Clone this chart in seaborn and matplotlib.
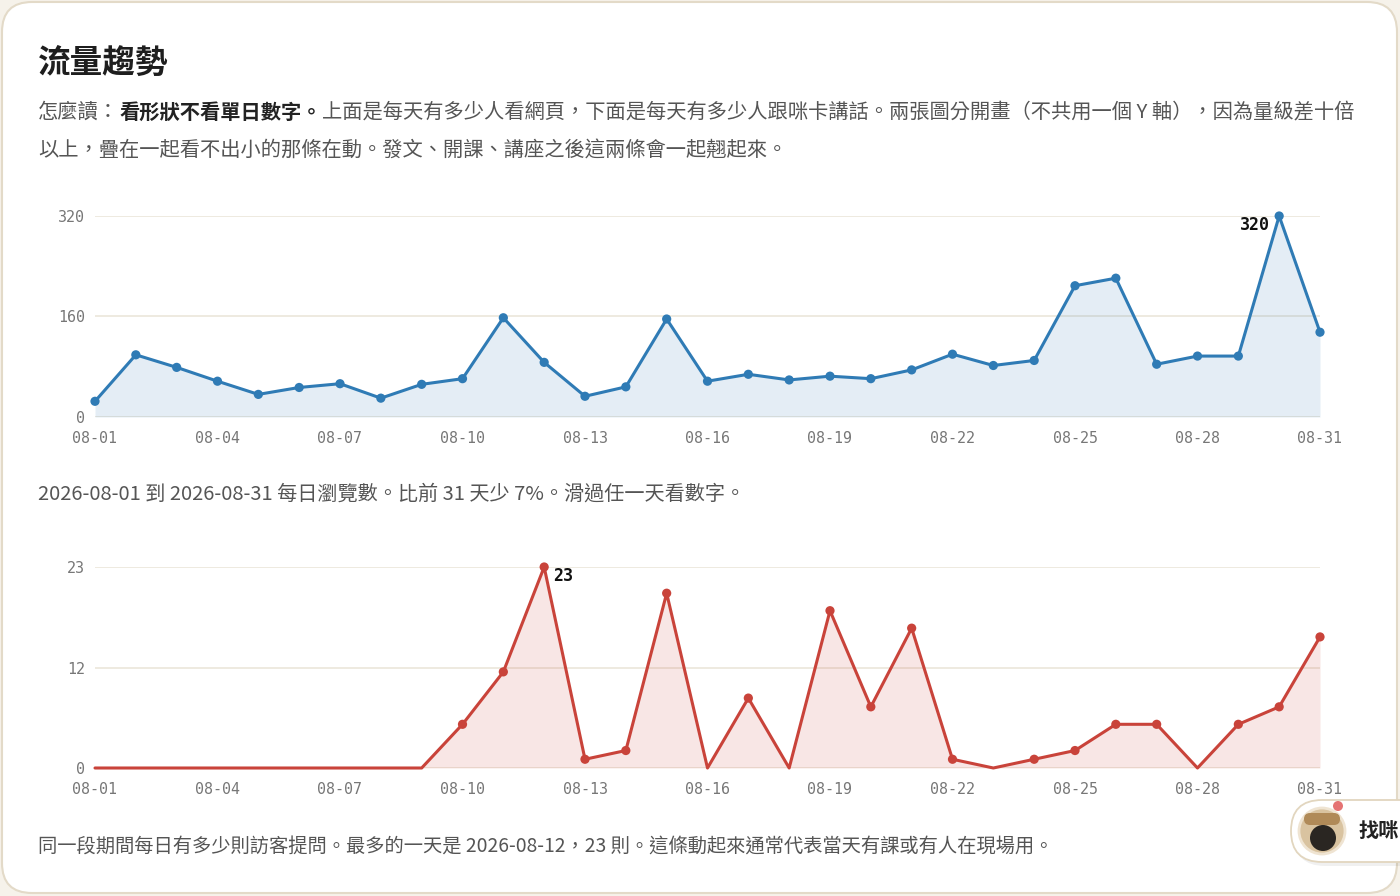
import numpy as np
import pandas as pd
import seaborn as sns
import matplotlib.pyplot as plt
from matplotlib.patches import FancyBboxPatch, Circle
from matplotlib.transforms import Affine2D

# ---------------- data ----------------
days = [f"08-{d:02d}" for d in range(1, 32)]
views = [25, 99, 79, 57, 36, 47, 53, 30, 52, 61, 158, 87, 33, 48, 156, 57,
         68, 59, 65, 61, 75, 100, 82, 90, 209, 221, 84, 97, 97, 320, 135]
questions = [0, 0, 0, 0, 0, 0, 0, 0, 0, 5, 11, 23, 1, 2, 20, 0,
             8, 0, 18, 7, 16, 1, 0, 1, 2, 5, 5, 0, 5, 7, 15]
x_tick_labels = ["08-01", "08-04", "08-07", "08-10", "08-13", "08-16",
                 "08-19", "08-22", "08-25", "08-28", "08-31"]
views_ticks = [0, 160, 320]
views_tick_labels = ["0", "160", "320"]
q_ticks = [0, 11.5, 23]
q_tick_labels = ["0", "12", "23"]

title = "流量趨勢"
desc1_a = "怎麼讀："
desc1_b = "看形狀不看單日數字。"
desc1_c = "上面是每天有多少人看網頁，下面是每天有多少人跟咪卡講話。兩張圖分開畫（不共用一個 Y 軸），因為量級差十倍"
desc2 = "以上，疊在一起看不出小的那條在動。發文、開課、講座之後這兩條會一起翹起來。"
cap1 = "2026-08-01 到 2026-08-31 每日瀏覽數。比前 31 天少 7%。滑過任一天看數字。"
cap2 = "同一段期間每日有多少則訪客提問。最多的一天是 2026-08-12，23 則。這條動起來通常代表當天有課或有人在現場用。"
widget_text = "找咪"

# ---------------- style ----------------
sns.set_theme(style="white")
CJK = ["Noto Sans CJK TC", "DejaVu Sans"]
MONO = ["DejaVu Sans Mono"]
plt.rcParams["font.family"] = CJK

BLUE = "#2f7bb5"
RED = "#c9433a"
GRID = "#ebe6da"
TICK = "#777777"

W, H = 1400, 896
fig = plt.figure(figsize=(W / 100, H / 100), dpi=100)
fig.patch.set_facecolor("#f6f2ea")
px = Affine2D().scale(1 / W, -1 / H).translate(0, 1) + fig.transFigure

# card
card = FancyBboxPatch((2, 2), 1395, 891, boxstyle="round,pad=0,rounding_size=30",
                      transform=px, facecolor="white", edgecolor="#e3dac8", lw=1.5,
                      zorder=-5)
fig.patches.append(card)

# ---------------- text ----------------
fig.text(38, 63, title, transform=px, fontsize=23.5, fontweight="bold",
         color="#1e1e1e", va="center", ha="left")

renderer = fig.canvas.get_renderer()
x0 = 38
for part, weight, col in [(desc1_a, "normal", "#555555"),
                          (desc1_b, "bold", "#222222"),
                          (desc1_c, "normal", "#555555")]:
    t = fig.text(x0, 112, part, transform=px, fontsize=14.6, fontweight=weight,
                 color=col, va="center", ha="left")
    bb = t.get_window_extent(renderer)
    x0 += bb.width
fig.text(38, 151, desc2, transform=px, fontsize=14.6, color="#555555",
         va="center", ha="left")
fig.text(38, 494, cap1, transform=px, fontsize=14.5, color="#555555",
         va="center", ha="left")
fig.text(38, 847, cap2, transform=px, fontsize=13.9, color="#555555",
         va="center", ha="left")


# ---------------- charts ----------------
def panel(rect_px, values, color, yticks, ylabels, ymax, ann_text, ann_offset, ann_ha):
    left, top, right, bottom = rect_px
    ax = fig.add_axes([left / W, 1 - bottom / H, (right - left) / W, (bottom - top) / H])
    ax.set_facecolor("none")
    df = pd.DataFrame({"i": np.arange(len(days)), "day": days, "v": values})
    ax.fill_between(df["i"], df["v"], 0, color=color, alpha=0.13, lw=0, zorder=2)
    sns.lineplot(data=df, x="i", y="v", ax=ax, color=color, lw=2.2, zorder=3,
                 clip_on=False)
    nz = df[df["v"] > 0]
    sns.scatterplot(data=nz, x="i", y="v", ax=ax, color=color, s=44,
                    edgecolor="none", zorder=4, clip_on=False)
    ax.set_xlim(0, len(days) - 1)
    ax.set_ylim(0, ymax)
    ax.set_yticks(yticks)
    ax.set_yticklabels(ylabels, family=MONO, fontsize=10.8, color=TICK)
    xt = [days.index(d) for d in x_tick_labels]
    ax.set_xticks(xt)
    ax.set_xticklabels(x_tick_labels, family=MONO, fontsize=10.8, color=TICK)
    ax.tick_params(axis="y", length=0, pad=7)
    ax.tick_params(axis="x", length=0, pad=10)
    ax.set_xlabel("")
    ax.set_ylabel("")
    for s in ax.spines.values():
        s.set_visible(False)
    ax.yaxis.grid(True, color=GRID, lw=1.2, zorder=1)
    ax.set_axisbelow(True)
    imax = int(np.argmax(values))
    ax.annotate(ann_text, (imax, values[imax]), xytext=ann_offset,
                textcoords="offset pixels", ha=ann_ha, va="center",
                family=MONO, fontweight="bold", fontsize=12, color="#111111",
                zorder=5)
    return ax


panel((95, 216, 1320, 417), views, BLUE, views_ticks, views_tick_labels, 320,
      str(max(views)), (-9, -9), "right")
panel((95, 567, 1320, 768), questions, RED, q_ticks, q_tick_labels, 23,
      str(max(questions)), (9, -9), "left")

# ---------------- floating widget ----------------
shadow = FancyBboxPatch((1294, 804), 140, 62, boxstyle="round,pad=0,rounding_size=31",
                        transform=px, facecolor="#000000", alpha=0.06, lw=0, zorder=5)
fig.patches.append(shadow)
pill = FancyBboxPatch((1291, 800), 140, 62, boxstyle="round,pad=0,rounding_size=31",
                      transform=px, facecolor="white", edgecolor="#e2d6bf", lw=1.3,
                      zorder=6)
fig.patches.append(pill)
fig.patches.append(Circle((1322, 831), 23, transform=px, facecolor="#d9c3a0",
                          edgecolor="#efe4d2", lw=2, zorder=7))
fig.patches.append(Circle((1323, 838), 13, transform=px, facecolor="#2a2622",
                          lw=0, zorder=8))
fig.patches.append(FancyBboxPatch((1304, 813), 36, 12, boxstyle="round,pad=0,rounding_size=6",
                                  transform=px, facecolor="#b08a58", lw=0, zorder=9))
fig.patches.append(Circle((1338, 806), 5, transform=px, facecolor="#e57373",
                          lw=0, zorder=10))
fig.text(1359, 831, widget_text, transform=px, fontsize=14.5, fontweight="bold",
         color="#222222", va="center", ha="left", zorder=11)

fig.savefig("out.png", dpi=100, facecolor=fig.get_facecolor())
